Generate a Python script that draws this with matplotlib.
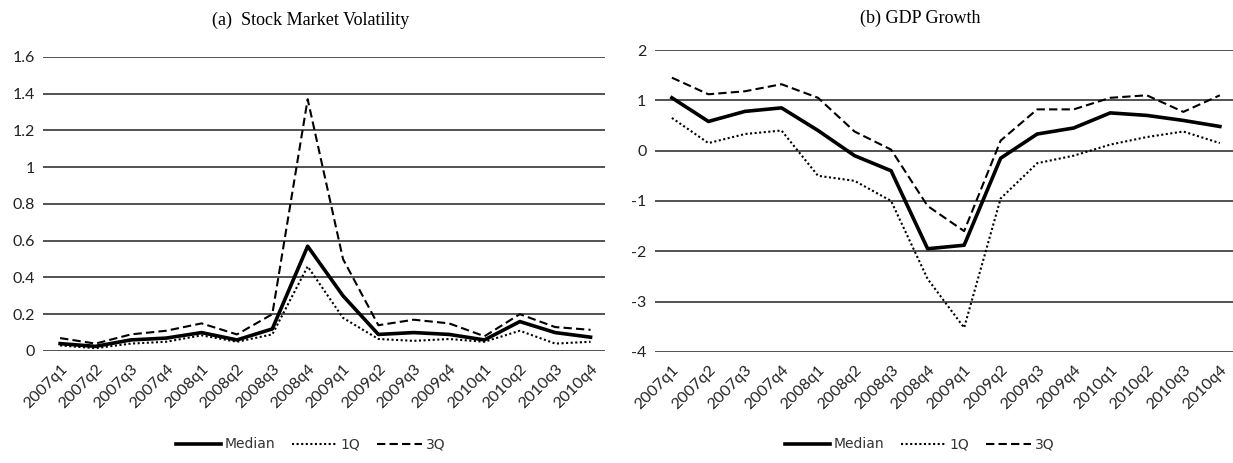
import numpy as np
import matplotlib
matplotlib.use('Agg')
from matplotlib import pyplot as plt

quarters = ['2007q1', '2007q2', '2007q3', '2007q4', '2008q1', '2008q2', '2008q3', '2008q4',
            '2009q1', '2009q2', '2009q3', '2009q4', '2010q1', '2010q2', '2010q3', '2010q4']

# (a) stock market volatility
vol_median = [0.04, 0.025, 0.06, 0.07, 0.10, 0.06, 0.12, 0.57, 0.30, 0.09, 0.10, 0.09, 0.06, 0.16, 0.10, 0.075]
vol_q1 = [0.03, 0.015, 0.04, 0.05, 0.085, 0.05, 0.09, 0.46, 0.18, 0.065, 0.055, 0.065, 0.05, 0.11, 0.04, 0.05]
vol_q3 = [0.07, 0.04, 0.09, 0.11, 0.15, 0.09, 0.20, 1.37, 0.50, 0.14, 0.17, 0.15, 0.08, 0.20, 0.13, 0.115]

# (b) GDP growth
gdp_median = [1.05, 0.58, 0.78, 0.85, 0.40, -0.10, -0.40, -1.95, -1.88, -0.15, 0.33, 0.45, 0.75, 0.70, 0.60, 0.48]
gdp_q1 = [0.65, 0.15, 0.33, 0.40, -0.50, -0.60, -1.00, -2.55, -3.52, -0.95, -0.25, -0.10, 0.12, 0.27, 0.38, 0.15]
gdp_q3 = [1.45, 1.12, 1.18, 1.32, 1.05, 0.38, 0.02, -1.10, -1.60, 0.20, 0.82, 0.82, 1.05, 1.10, 0.77, 1.10]

vol_ticks = [0, 0.2, 0.4, 0.6, 0.8, 1, 1.2, 1.4, 1.6]
vol_ticklabels = ['0', '0.2', '0.4', '0.6', '0.8', '1', '1.2', '1.4', '1.6']
gdp_ticks = [-4, -3, -2, -1, 0, 1, 2]

fig = plt.figure(figsize=(12.33, 4.63), dpi=100)
ax1 = fig.add_axes([0.035, 0.242, 0.456, 0.635])
ax2 = fig.add_axes([0.531, 0.240, 0.469, 0.652])

x = np.arange(len(quarters))


def style(ax, ticks, labels, ylim, xlim):
    ax.set_ylim(*ylim)
    ax.set_xlim(*xlim)
    ax.set_yticks(ticks)
    ax.set_yticklabels(labels, fontsize=11.5, family='Lato', color='#222222')
    ax.set_xticks(x)
    ax.set_xticklabels(quarters, rotation=45, ha='right', rotation_mode='anchor',
                       fontsize=11.5, family='Lato', color='#222222')
    ax.tick_params(length=0, pad=6)
    ax.tick_params(axis='x', pad=8)
    for s in ax.spines.values():
        s.set_visible(False)
    ax.grid(axis='y', color='#444444', linewidth=1.3)
    ax.set_axisbelow(True)


def draw(ax, med, q1, q3):
    ax.plot(x, med, color='black', linewidth=2.6, label='Median')
    ax.plot(x, q1, color='black', linewidth=1.5, linestyle=(0, (1, 1.2)), label='1Q')
    ax.plot(x, q3, color='black', linewidth=1.5, linestyle=(0, (4, 2)), label='3Q')


draw(ax1, vol_median, vol_q1, vol_q3)
style(ax1, vol_ticks, vol_ticklabels, (0, 1.6), (-0.48, 15.42))

draw(ax2, gdp_median, gdp_q1, gdp_q3)
style(ax2, gdp_ticks, [str(t) for t in gdp_ticks], (-4, 2), (-0.47, 15.36))

fig.text(0.252, 0.955, '(a)  Stock Market Volatility', ha='center', va='center',
         fontsize=13, family='Liberation Serif')
fig.text(0.746, 0.960, '(b) GDP Growth', ha='center', va='center',
         fontsize=13, family='Liberation Serif')

for ax, cx in [(ax1, 0.252), (ax2, 0.746)]:
    h, l = ax.get_legend_handles_labels()
    fig.legend(h, l, loc='center', bbox_to_anchor=(cx, 0.04), ncol=3, frameon=False,
               prop={'family': 'DejaVu Sans', 'size': 10}, labelcolor='#333333',
               handlelength=3.2, columnspacing=1.2, handletextpad=0.3)

plt.savefig('out.png', dpi=100)
